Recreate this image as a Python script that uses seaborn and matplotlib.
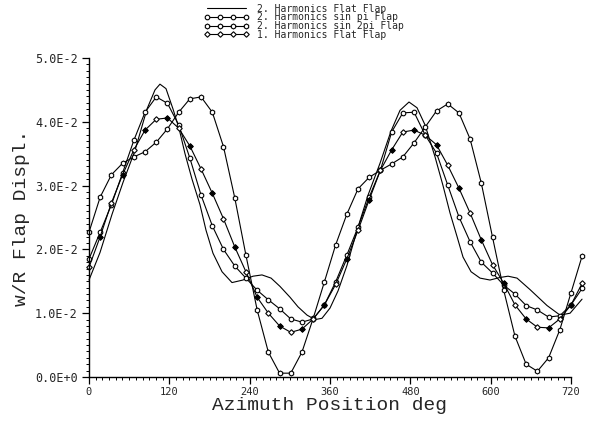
import matplotlib
matplotlib.use("Agg")
import matplotlib.pyplot as plt
import seaborn as sns
import pandas as pd
from matplotlib.ticker import MultipleLocator, FixedLocator, FixedFormatter

# ---------------- data (flap displacement in units of 1E-2) ----------------
# common azimuth grid of the marker curves (deg)
azimuth = [0.0, 16.7, 33.5, 50.2, 67.0, 83.7, 100.5, 117.2, 134.0, 150.7,
           167.4, 184.2, 200.9, 217.7, 234.4, 251.2, 267.9, 284.7, 301.4, 318.1,
           334.9, 351.6, 368.4, 385.1, 401.9, 418.6, 435.3, 452.1, 468.8, 485.6,
           502.3, 519.1, 535.8, 552.6, 569.3, 586.0, 602.8, 619.5, 636.3, 653.0,
           669.8, 686.5, 703.3, 720.0, 736.7]

sin_pi_flap = [1.85, 2.27, 2.70, 3.20, 3.71, 4.15, 4.39, 4.29, 3.95, 3.43,
               2.85, 2.37, 2.00, 1.74, 1.55, 1.36, 1.21, 1.07, 0.91, 0.86,
               0.91, 1.13, 1.49, 1.91, 2.35, 2.82, 3.24, 3.84, 4.14, 4.15,
               3.79, 3.51, 3.01, 2.51, 2.12, 1.80, 1.63, 1.44, 1.30, 1.12,
               1.05, 0.94, 0.96, 1.13, 1.39]

sin_2pi_flap = [2.27, 2.82, 3.17, 3.35, 3.45, 3.53, 3.68, 3.89, 4.15, 4.36,
                4.39, 4.15, 3.61, 2.81, 1.91, 1.05, 0.39, 0.06, 0.06, 0.39,
                0.92, 1.49, 2.07, 2.55, 2.95, 3.13, 3.24, 3.34, 3.45, 3.67,
                3.92, 4.17, 4.28, 4.14, 3.73, 3.04, 2.19, 1.36, 0.64, 0.20,
                0.09, 0.30, 0.74, 1.32, 1.90]

first_harm_flat = [1.72, 2.20, 2.73, 3.17, 3.56, 3.87, 4.04, 4.06, 3.90, 3.62,
                   3.26, 2.88, 2.48, 2.04, 1.65, 1.25, 1.00, 0.80, 0.70, 0.75,
                   0.91, 1.13, 1.45, 1.85, 2.30, 2.78, 3.24, 3.56, 3.84, 3.87,
                   3.79, 3.64, 3.32, 2.96, 2.57, 2.15, 1.76, 1.47, 1.13, 0.91,
                   0.78, 0.77, 0.91, 1.13, 1.47]

# plain curve (2. Harmonics Flat Flap), read at its own azimuths
plain_az = [0, 16.4, 34.4, 50.8, 68.7, 86.6, 98.6, 106, 115, 125.5,
            134.4, 143.4, 153.9, 165.8, 174.8, 185.2, 198.7, 213.6, 230, 245,
            258.4, 272, 285.3, 300.3, 312.2, 325.7, 337.6, 348, 360, 372,
            385.4, 400.4, 416.8, 434.7, 451, 464.6, 478, 490, 502, 516.9,
            528.8, 539.3, 549.8, 558.7, 570.7, 584.1, 599, 614, 626, 639.4,
            658.8, 684.2, 703.6, 718.6, 736.5]
plain_w = [1.52, 1.95, 2.55, 3.05, 3.55, 4.2, 4.5, 4.59, 4.52, 4.2,
           3.9, 3.5, 3.1, 2.7, 2.3, 1.94, 1.65, 1.48, 1.52, 1.58,
           1.6, 1.55, 1.42, 1.25, 1.1, 0.97, 0.9, 0.92, 1.08, 1.35,
           1.75, 2.3, 2.85, 3.35, 3.85, 4.18, 4.31, 4.22, 3.95, 3.45,
           3.0, 2.57, 2.2, 1.88, 1.65, 1.55, 1.52, 1.56, 1.58, 1.55,
           1.37, 1.12, 0.97, 1.0, 1.22]

labels = ["2. Harmonics Flat Flap", "2. Harmonics sin pi Flap",
          "2. Harmonics sin 2pi Flap", "1. Harmonics Flat Flap"]

y_ticks = [0, 1, 2, 3, 4, 5]
y_ticklabels = ["0.0E+0", "1.0E-2", "2.0E-2", "3.0E-2", "4.0E-2", "5.0E-2"]
x_ticks = [0, 120, 240, 360, 480, 600, 720]

# ---------------- figure ----------------
sns.set_style("ticks")
plt.rcParams['font.family'] = ['DejaVu Sans Mono', 'DejaVu Sans']

fig = plt.figure(figsize=(5.98, 4.26), dpi=100)
ax = fig.add_axes([89 / 598, 49 / 426, (571 - 89) / 598, (377 - 58) / 426])

lw = 0.8
common = dict(color="black", linewidth=lw, clip_on=False, sort=False,
              estimator=None, ax=ax)

sns.lineplot(x=plain_az, y=plain_w, label=labels[0], **common)
sns.lineplot(x=azimuth, y=sin_pi_flap, label=labels[1], marker="o",
             markersize=3.3, markerfacecolor="white", markeredgecolor="black",
             markeredgewidth=0.8, **common)
sns.lineplot(x=azimuth, y=sin_2pi_flap, label=labels[2], marker="h",
             markersize=3.6, markerfacecolor="white", markeredgecolor="black",
             markeredgewidth=0.8, **common)
sns.lineplot(x=azimuth, y=first_harm_flat, label=labels[3], marker="D",
             markersize=2.8, markerfacecolor="white", markeredgecolor="black",
             markeredgewidth=0.8, **common)
# alternate filled diamonds on the 1st-harmonic curve
df_b = pd.DataFrame({"az": azimuth, "w": first_harm_flat})
df_b = df_b.iloc[1::2]
sns.scatterplot(data=df_b, x="az", y="w", marker="D", s=7, color="black",
                edgecolor="black", linewidth=0.5, clip_on=False, ax=ax,
                legend=False, zorder=3)

handles, labs = ax.get_legend_handles_labels()
if ax.get_legend() is not None:
    ax.get_legend().remove()

ax.set_xlim(0, 720)
ax.set_ylim(0, 5)
ax.xaxis.set_major_locator(FixedLocator(x_ticks))
ax.xaxis.set_minor_locator(MultipleLocator(10))
ax.yaxis.set_major_locator(FixedLocator(y_ticks))
ax.yaxis.set_major_formatter(FixedFormatter(y_ticklabels))
ax.yaxis.set_minor_locator(MultipleLocator(0.1))

for side in ["top", "right"]:
    ax.spines[side].set_visible(False)
for side in ["left", "bottom"]:
    ax.spines[side].set_linewidth(1.0)
    ax.spines[side].set_color("black")

ax.tick_params(which="major", direction="out", length=5, width=0.9,
               color="black", labelsize=8)
ax.tick_params(which="minor", direction="out", length=2.5, width=0.7,
               color="black")
ax.tick_params(axis="y", labelsize=8.5, pad=3)
ax.tick_params(axis="x", labelsize=7.5, pad=2)

ax.set_xlabel("Azimuth Position deg", fontsize=14,
              family=["Liberation Mono", "DejaVu Sans Mono"], labelpad=0)
ax.set_ylabel("w/R Flap Displ.", fontsize=14,
              family=["Liberation Mono", "DejaVu Sans Mono"], labelpad=4)

fig.legend(handles, labs, loc="upper left", bbox_to_anchor=(200 / 598, 1.0),
           frameon=False, prop={"family": "DejaVu Sans Mono", "size": 7},
           handlelength=4.6, numpoints=4, labelspacing=-0.15,
           handletextpad=0.9, borderpad=0.2, borderaxespad=0.2)

fig.savefig("out.png", dpi=100, facecolor="white")
